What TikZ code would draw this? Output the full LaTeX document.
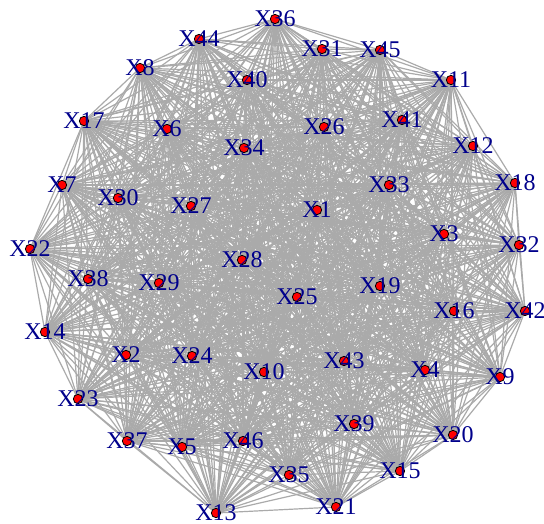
\documentclass[tikz,border=0pt]{standalone}
\usepackage{fontspec}
\setmainfont{Liberation Serif}
\definecolor{edgegray}{RGB}{170,170,170}
\definecolor{labblue}{RGB}{0,0,139}
\begin{document}
\begin{tikzpicture}[x=0.75pt,y=-0.75pt,
  edge/.style={draw=edgegray,line width=0.9pt},
  vdot/.style={circle,fill=red,draw=black,line width=0.6pt,minimum size=7pt,inner sep=0pt},
  vlab/.style={text=labblue,font=\fontsize{18}{18}\selectfont,inner sep=0pt,anchor=center}]
\useasboundingbox (0,0) rectangle (544,524);
\foreach \n/\x/\y in {1/317/210,2/126/355,3/444/234,4/425/370,5/182/447,6/167/129,7/62/185,8/140/68,
  9/500/377,10/264/372,11/451/80,12/473/146,13/216/513,14/45/332,15/400/471,16/454/311,17/84/121,
  18/515/183,19/380/286,20/453/435,21/336/507,22/30/249,23/78/399,24/192/356,25/297/297,26/324/127,
  27/191/206,28/242/260,29/159/283,30/118/198,31/322/49,32/519/245,33/389/185,34/244/148,35/289/475,
  36/275/19,37/127/441,38/88/279,39/354/424,40/247/80,41/402/120,42/525/311,43/344/361,44/199/39,
  45/380/50,46/243/441}
  {\coordinate (v\n) at (\x,\y);}
\foreach \i in {1,...,45}{
  \pgfmathtruncatemacro\js{\i+1}
  \foreach \j in {\js,...,46}{\draw[edge] (v\i) -- (v\j);}
}
\foreach \n in {1,...,46}{
  \node[vdot] (dot\n) at (v\n) {};
  \node[vlab] (lab\n) at (v\n) {X\n};
}
\end{tikzpicture}
\end{document}
